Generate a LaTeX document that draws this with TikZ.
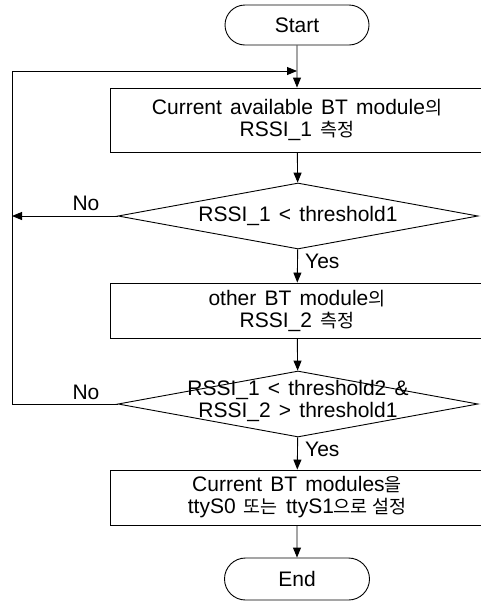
\documentclass[tikz,border=0pt]{standalone}
\usepackage{fontspec}
\setmainfont{Liberation Sans}[WordSpace=1.4]
\newfontfamily\kr[Scale=0.88]{Noto Sans CJK KR}
\usetikzlibrary{shapes.geometric,shapes.misc,arrows.meta}
\begin{document}
\begin{tikzpicture}[x=1pt,y=-1pt,
  font=\fontsize{21}{22}\selectfont,
  line/.style={draw, line width=0.9pt},
  arr/.style={line, -{Triangle[length=10pt,width=8pt]}},
  term/.style={draw, line width=0.9pt, rounded rectangle, minimum width=144pt, minimum height=40pt, inner sep=0pt},
  proc/.style={draw, line width=0.9pt, rectangle, minimum width=374pt, inner sep=0pt, align=center},
  dec/.style={draw, line width=0.9pt, diamond, minimum width=360pt, minimum height=66pt, inner sep=0pt},
  lbl/.style={inner sep=0pt}]
\useasboundingbox (0,0) rectangle (481,603);

\node[term] (start) at (297,25) {Start};
\node[proc, minimum height=64pt] (b1) at (297,120) {Current available BT module{\kr 의}\\RSSI\_1 {\kr 측정}};
\node[dec] (d1) at (298,216) {};
\node[lbl] (t1) at (298,216) {RSSI\_1 < threshold1};
\node[proc, minimum height=55pt] (b2) at (297,310.5) {other BT module{\kr 의}\\RSSI\_2 {\kr 측정}};
\node[dec] (d2) at (298,404) {};
\node[lbl, align=center] (t2) at (298,401) {RSSI\_1 < threshold2 \&\\RSSI\_2 > threshold1};
\node[proc, minimum height=55pt] (b3) at (297,497.5) {Current BT modules{\kr 을}\\ttyS0 {\kr 또는} ttyS1{\kr 으로 설정}};
\node[term, minimum width=145pt, minimum height=42pt] (end) at (297,579) {End};

\coordinate (lt) at (12,71);
\coordinate (lj) at (297,71);
\coordinate (l1) at (12,216);
\coordinate (l2) at (12,404);

\draw[arr] (start) -- (b1);
\draw[arr] (b1) -- (d1);
\draw[arr] (d1) -- (b2);
\draw[arr] (b2) -- (d2);
\draw[arr] (d2) -- (b3);
\draw[arr] (b3) -- (end);
\draw[arr] (d1.west) -- (l1);
\draw[arr] (d2.west) -- (l2) -- (lt) -- (lj);

\node[lbl, anchor=base] (no1) at (86,210) {No};
\node[lbl, anchor=base] (no2) at (86,399) {No};
\node[lbl, anchor=base west] (yes1) at (305,268) {Yes};
\node[lbl, anchor=base west] (yes2) at (305,456) {Yes};
\end{tikzpicture}
\end{document}
